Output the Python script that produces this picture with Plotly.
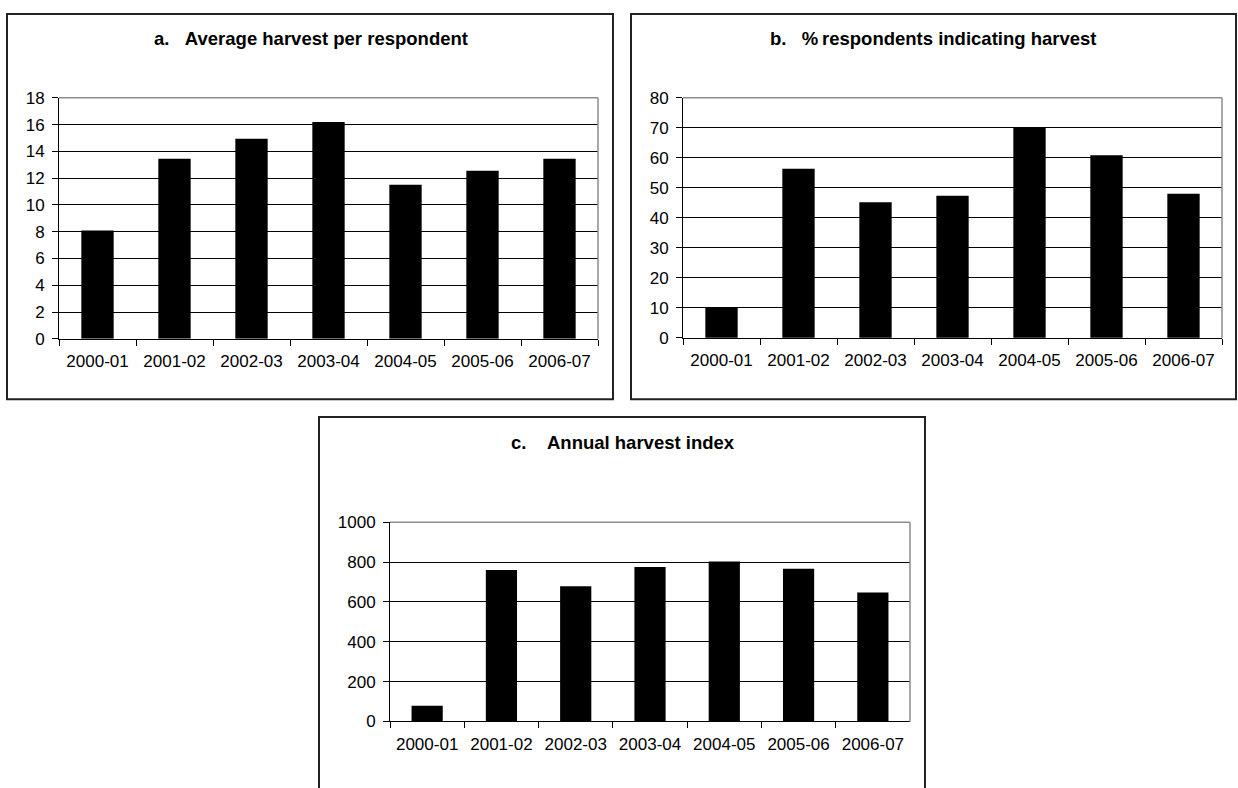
import plotly.graph_objects as go

W, H = 1238, 788

seasons = ["2000-01", "2001-02", "2002-03", "2003-04", "2004-05", "2005-06", "2006-07"]
avg_harvest = [8.1, 13.45, 14.95, 16.2, 11.5, 12.55, 13.45]
pct_respondents = [9.95, 56.4, 45.2, 47.4, 69.9, 60.9, 48.0]
harvest_index = [79, 760, 679, 776, 803, 767, 648]

NB = "\u00a0"
titles = ["a." + NB * 3 + "Average harvest per respondent",
          "b." + NB * 3 + "%\u2009respondents indicating harvest",
          "c." + NB * 4 + "Annual harvest index"]

FONT = "Liberation Sans, Arial, sans-serif"
TICK_SIZE = 17
TITLE_SIZE = 18.5


def fx(px):
    return px / W


def fy(py):
    return 1 - py / H


# plot areas in pixels: (x0, x1, ytop, ybottom)
areas = [(59, 598, 91, 338), (683, 1222, 91, 337), (390, 910, 526, 730)]
yranges = [(0, 18, 2), (0, 80, 10), (0, 1000, 200)]
series = [avg_harvest, pct_respondents, harvest_index]

fig = go.Figure()
layout = dict(width=W, height=H, margin=dict(l=0, r=0, t=0, b=0),
              paper_bgcolor="white", plot_bgcolor="white", showlegend=False,
              font=dict(family=FONT, size=TICK_SIZE, color="black"), bargap=0.58)
shapes = []
annotations = []

for i, (area, yr, vals) in enumerate(zip(areas, yranges, series)):
    n = "" if i == 0 else str(i + 1)
    xa, ya = "x" + n, "y" + n
    fig.add_trace(go.Bar(x=seasons, y=vals, marker=dict(color="black", line=dict(width=0)),
                         xaxis=xa, yaxis=ya, hoverinfo="x+y"))
    x0, x1, yt, yb = area
    layout["xaxis" + n] = dict(domain=[fx(x0), fx(x1)], anchor=ya, type="category",
                               showline=True, linecolor="black", linewidth=1,
                               ticks="outside", tickson="boundaries", ticklen=6,
                               tickcolor="black", showgrid=False,
                               tickfont=dict(size=TICK_SIZE, family=FONT, color="black"),
                               ticklabelstandoff=7)
    layout["yaxis" + n] = dict(domain=[fy(yb), fy(yt)], anchor=xa,
                               range=[yr[0], yr[1]], dtick=yr[2], tick0=0,
                               showline=True, linecolor="black", linewidth=1,
                               ticks="outside", ticklen=6, tickcolor="black",
                               showgrid=True, gridcolor="black", gridwidth=1,
                               zeroline=False,
                               tickfont=dict(size=TICK_SIZE, family=FONT, color="black"),
                               ticklabelstandoff=4)
    # gray top and right plot-area border
    shapes.append(dict(type="line", xref=xa + " domain", yref=ya + " domain",
                       x0=0, x1=1, y0=1, y1=1, line=dict(color="#8c8c8c", width=1.5)))
    shapes.append(dict(type="line", xref=xa + " domain", yref=ya + " domain",
                       x0=1, x1=1, y0=0, y1=1, line=dict(color="#8c8c8c", width=1.5)))

# panel borders
for (bx0, bx1, by0, by1) in [(7, 613, 5, 400), (631, 1236, 5, 400)]:
    shapes.append(dict(type="rect", xref="paper", yref="paper",
                       x0=fx(bx0), x1=fx(bx1), y0=fy(by1), y1=fy(by0),
                       line=dict(color="#222222", width=2), fillcolor="rgba(0,0,0,0)"))
cx0, cx1, cyt = 319, 925, 418
shapes.append(dict(type="path", xref="paper", yref="paper",
                   path=f"M {fx(cx0)},{fy(800)} L {fx(cx0)},{fy(cyt)} L {fx(cx1)},{fy(cyt)} L {fx(cx1)},{fy(800)}",
                   line=dict(color="#222222", width=2)))

# titles
for t, (cx, cy) in zip(titles, [(311, 30), (934, 30), (623, 444)]):
    annotations.append(dict(text="<b>" + t + "</b>", xref="paper", yref="paper",
                            x=fx(cx), y=fy(cy), xanchor="center", yanchor="middle",
                            showarrow=False,
                            font=dict(family=FONT, size=TITLE_SIZE, color="black")))

layout["shapes"] = shapes
layout["annotations"] = annotations
fig.update_layout(**layout)
fig.write_html("out.html", config={"displayModeBar": False},
               post_script="document.body.style.margin='0px';document.body.style.overflow='hidden';")
